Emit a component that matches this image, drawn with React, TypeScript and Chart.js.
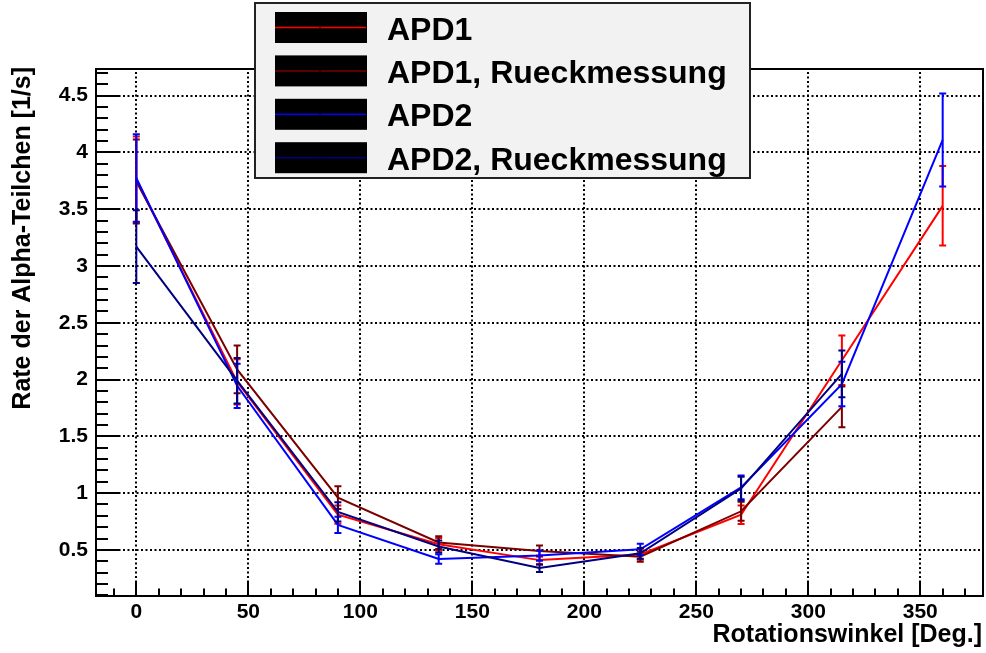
import React, { useEffect, useRef } from 'react';
import { Chart, registerables } from 'chart.js';

Chart.register(...registerables);

// Measured rates (1/s) versus rotation angle, with statistical errors
const angles = [0, 45, 90, 135, 180, 225, 270, 315, 360];
const apd1Rate = [3.76, 1.98, 0.81, 0.55, 0.41, 0.46, 0.81, 2.17, 3.53];
const apd1Err = [0.38, 0.2, 0.08, 0.055, 0.041, 0.046, 0.081, 0.217, 0.35];
const apd1BackRate = [3.745, 2.09, 0.96, 0.565, 0.49, 0.44, 0.84, 1.76];
const apd1BackErr = [0.37, 0.21, 0.1, 0.056, 0.049, 0.044, 0.084, 0.18];
const apd2Rate = [3.775, 1.945, 0.72, 0.42, 0.45, 0.505, 1.05, 1.96, 4.11];
const apd2Err = [0.385, 0.195, 0.072, 0.042, 0.045, 0.05, 0.105, 0.196, 0.41];
const apd2BackRate = [3.17, 1.99, 0.835, 0.53, 0.34, 0.47, 1.04, 2.05];
const apd2BackErr = [0.32, 0.2, 0.084, 0.053, 0.034, 0.047, 0.104, 0.205];

const seriesLabels = ['APD1', 'APD1, Rueckmessung', 'APD2', 'APD2, Rueckmessung'];
const seriesColors = ['#ff0000', '#7a0000', '#0000ff', '#000080'];

const xTickValues = [0, 50, 100, 150, 200, 250, 300, 350];
const yTickValues = [0.5, 1, 1.5, 2, 2.5, 3, 3.5, 4, 4.5];
const xRange = [-18, 378];
const yRange = [0.094, 4.735];
const xMinorStep = 10;
const yMinorStep = 0.1;
const xTitle = 'Rotationswinkel [Deg.]';
const yTitle = 'Rate der Alpha-Teilchen [1/s]';

const FONT = '"Liberation Sans", Arial, Helvetica, sans-serif';

function toPoints(rates: number[]) {
  return rates.map((r, i) => ({ x: angles[i], y: r }));
}

// Dotted grid, inward tick marks and the frame box
const framePlugin = {
  id: 'frameAndGrid',
  beforeDatasetsDraw(chart: any) {
    const { ctx, chartArea: a, scales } = chart;
    const xs = scales.x;
    const ys = scales.y;
    ctx.save();
    ctx.strokeStyle = '#000';
    ctx.lineWidth = 2;
    ctx.setLineDash([2, 2.5]);
    ctx.beginPath();
    for (const v of xTickValues) {
      const px = Math.round(xs.getPixelForValue(v));
      ctx.moveTo(px, a.bottom);
      ctx.lineTo(px, a.top);
    }
    for (const v of yTickValues) {
      const py = Math.round(ys.getPixelForValue(v));
      ctx.moveTo(a.left, py);
      ctx.lineTo(a.right, py);
    }
    ctx.stroke();
    ctx.setLineDash([]);

    ctx.lineWidth = 2;
    ctx.beginPath();
    // x ticks
    for (let v = Math.ceil(xRange[0] / xMinorStep) * xMinorStep; v <= xRange[1]; v += xMinorStep) {
      const px = Math.round(xs.getPixelForValue(v));
      const major = Math.abs(v % 50) < 1e-6;
      ctx.moveTo(px, a.bottom);
      ctx.lineTo(px, a.bottom - (major ? 15 : 7.5));
    }
    // y ticks
    for (let k = Math.ceil(yRange[0] / yMinorStep); k * yMinorStep <= yRange[1] + 1e-9; k++) {
      const v = k * yMinorStep;
      const py = Math.round(ys.getPixelForValue(v));
      const major = k % 5 === 0;
      ctx.moveTo(a.left, py);
      ctx.lineTo(a.left + (major ? 24 : 12), py);
    }
    ctx.stroke();

    ctx.lineWidth = 2;
    ctx.strokeRect(a.left, a.top, a.right - a.left, a.bottom - a.top);
    ctx.restore();
  },
  // vertical error bars with small caps, drawn right after their own line
  afterDatasetDraw(chart: any, args: any) {
    const ds = chart.data.datasets[args.index];
    const errs: number[] = ds.errors;
    if (!errs) return;
    const { ctx, scales } = chart;
    const xs = scales.x;
    const ys = scales.y;
    ctx.save();
    ctx.strokeStyle = ds.borderColor;
    ctx.lineWidth = 2;
    ctx.beginPath();
    ds.data.forEach((p: any, i: number) => {
      const px = xs.getPixelForValue(p.x);
      const top = ys.getPixelForValue(p.y + errs[i]);
      const bot = ys.getPixelForValue(p.y - errs[i]);
      ctx.moveTo(px, top);
      ctx.lineTo(px, bot);
      ctx.moveTo(px - 3.5, top);
      ctx.lineTo(px + 3.5, top);
      ctx.moveTo(px - 3.5, bot);
      ctx.lineTo(px + 3.5, bot);
    });
    ctx.stroke();
    ctx.restore();
  },
  afterDraw(chart: any) {
    const { ctx, chartArea: a } = chart;
    ctx.save();
    ctx.fillStyle = '#000';

    // axis titles
    ctx.font = `bold 25px ${FONT}`;
    ctx.textAlign = 'right';
    ctx.textBaseline = 'alphabetic';
    ctx.fillText(xTitle, a.right - 1, 642);
    ctx.save();
    ctx.translate(30, a.top - 2);
    ctx.rotate(-Math.PI / 2);
    ctx.textAlign = 'right';
    ctx.fillText(yTitle, 0, 0);
    ctx.restore();

    // legend box
    const lx = 255, ly = 3, lw = 495, lh = 175;
    ctx.fillStyle = '#f2f2f2';
    ctx.fillRect(lx, ly, lw, lh);
    ctx.strokeStyle = '#222';
    ctx.lineWidth = 2;
    ctx.strokeRect(lx, ly, lw, lh);

    const rowH = 43.4;
    chart.data.datasets.forEach((ds: any, i: number) => {
      const cy = 27.5 + i * rowH;
      ctx.fillStyle = '#000';
      ctx.fillRect(275, cy - 15.5, 92, 31);
      ctx.strokeStyle = ds.borderColor;
      ctx.lineWidth = 1.5;
      ctx.beginPath();
      ctx.moveTo(275, cy);
      ctx.lineTo(366, cy);
      ctx.stroke();
      ctx.fillStyle = '#000';
      ctx.fillRect(319.5, cy - 1, 1, 2);
      ctx.font = `bold 32px ${FONT}`;
      ctx.textAlign = 'left';
      ctx.textBaseline = 'alphabetic';
      ctx.fillText(ds.label, 387, cy + 12);
    });
    ctx.restore();
  },
};

export default function App() {
  const canvasRef = useRef<HTMLCanvasElement | null>(null);

  useEffect(() => {
    const canvas = canvasRef.current;
    if (!canvas) return;
    const rates = [apd1Rate, apd1BackRate, apd2Rate, apd2BackRate];
    const errors = [apd1Err, apd1BackErr, apd2Err, apd2BackErr];
    const chart = new Chart(canvas, {
      type: 'scatter',
      data: {
        datasets: rates.map((r, i) => ({
          label: seriesLabels[i],
          data: toPoints(r),
          errors: errors[i],
          showLine: true,
          borderColor: seriesColors[i],
          backgroundColor: seriesColors[i],
          borderWidth: 2,
          pointRadius: 0,
          pointHoverRadius: 0,
          tension: 0,
          order: 3 - i,
        })) as any,
      },
      options: {
        animation: false,
        responsive: false,
        devicePixelRatio: 1,
        events: [],
        layout: { padding: { top: 69, right: 3, left: 0, bottom: 0 } },
        plugins: {
          legend: { display: false },
          tooltip: { enabled: false },
          title: { display: false },
        },
        scales: {
          x: {
            type: 'linear',
            min: xRange[0],
            max: xRange[1],
            grid: { display: false, drawTicks: false },
            border: { display: false },
            afterBuildTicks: (s: any) => {
              s.ticks = xTickValues.map((v) => ({ value: v }));
            },
            afterFit: (s: any) => {
              s.height = 57;
            },
            ticks: {
              autoSkip: false,
              maxRotation: 0,
              padding: 4,
              color: '#000',
              font: { family: FONT, size: 21, weight: 'bold' },
              callback: (v: any) => String(v),
            },
          },
          y: {
            type: 'linear',
            min: yRange[0],
            max: yRange[1],
            grid: { display: false, drawTicks: false },
            border: { display: false },
            afterBuildTicks: (s: any) => {
              s.ticks = yTickValues.map((v) => ({ value: v }));
            },
            afterFit: (s: any) => {
              s.width = 96;
            },
            ticks: {
              autoSkip: false,
              padding: 8,
              color: '#000',
              font: { family: FONT, size: 21, weight: 'bold' },
              callback: (v: any) => String(v),
            },
          },
        },
      } as any,
      plugins: [framePlugin],
    });
    return () => chart.destroy();
  }, []);

  return (
    <div style={{ position: 'fixed', left: 0, top: 0, width: 986, height: 653, background: '#fff' }}>
      <canvas ref={canvasRef} width={986} height={653} style={{ display: 'block' }} />
    </div>
  );
}
